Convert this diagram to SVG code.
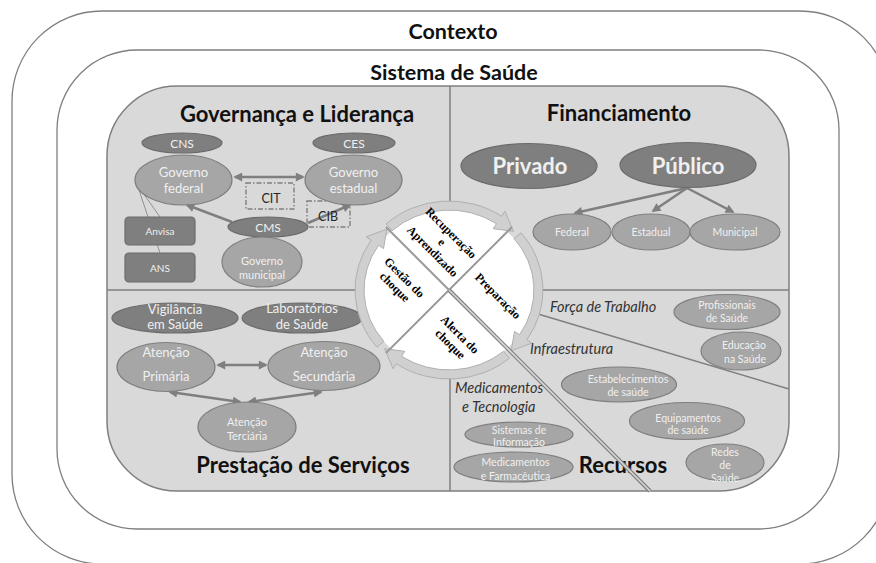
<svg xmlns="http://www.w3.org/2000/svg" width="876" height="563" viewBox="0 0 876 563">
<defs>
<style>
text{font-family:Lato,"Liberation Sans",sans-serif}
.frame{fill:#fff;stroke:#7f7f7f;stroke-width:1.3}
.panel{fill:#d9d9d9;stroke:#7f7f7f;stroke-width:1.5}
.div{stroke:#7f7f7f;stroke-width:1.5;fill:none}
.dk{fill:#7f7f7f;stroke:#6b6b6b;stroke-width:1.2}
.md{fill:#a6a6a6;stroke:#7f7f7f;stroke-width:1.2}
.lbl{fill:#f0f0f0;text-anchor:middle}
.ttl{font-weight:bold;fill:#111;font-size:22px;text-anchor:middle}
.big{font-weight:bold;fill:#111;font-size:21.5px;text-anchor:middle}
.it{font-style:italic;fill:#333;font-size:14.5px}
.conn{stroke:#7f7f7f;stroke-width:2.5;fill:none}
.thin{stroke:#7f7f7f;stroke-width:0.8;fill:none}
.dash{fill:none;stroke:#7f7f7f;stroke-width:1.4;stroke-dasharray:5 2 1.5 2}
.ring{fill:#d0d0d0;stroke:#b0b0b0;stroke-width:1}
.q{font-family:"Liberation Serif",serif;font-weight:bold;font-size:12px;fill:#000;text-anchor:middle}
</style>
<marker id="ah" viewBox="0 0 10 10" refX="8" refY="5" markerWidth="10" markerHeight="9" markerUnits="userSpaceOnUse" orient="auto-start-reverse">
<path d="M0,0 L10,5 L0,10 z" fill="#7f7f7f"/>
</marker>
</defs>

<g id="contexto">
<rect class="frame" x="12" y="11" width="878" height="553" rx="90" ry="90"/>
<text class="big" x="453" y="39" font-size="21">Contexto</text>
</g>
<g id="sistema-de-saude">
<rect class="frame" x="57" y="50" width="782" height="479" rx="80" ry="80"/>
<text class="big" x="454" y="80">Sistema de Saúde</text>
</g>
<g id="painel">
<rect class="panel" x="107" y="86" width="682" height="405" rx="70" ry="70"/>
<line class="div" x1="450" y1="86" x2="450" y2="210"/>
<line class="div" x1="450" y1="372" x2="450" y2="491"/>
<line class="div" x1="107" y1="290" x2="360" y2="290"/>
<line class="div" x1="540" y1="290" x2="789" y2="290"/>
<line class="div" x1="538" y1="314" x2="789" y2="389"/>
</g>

<g id="titulos">
<text class="ttl" x="297" y="122">Governança e Liderança</text>
<text class="ttl" x="619" y="121">Financiamento</text>
<text class="ttl" x="303" y="473">Prestação de Serviços</text>
<text class="ttl" x="623" y="473">Recursos</text>
<text class="it" x="550" y="312">Força de Trabalho</text>
<text class="it" x="530" y="354">Infraestrutura</text>
<text class="it" x="455" y="393">Medicamentos</text>
<text class="it" x="462" y="412">e Tecnologia</text>
</g>

<g id="connectors">
<line class="thin" x1="136" y1="183" x2="160" y2="217"/>
<line class="thin" x1="139" y1="190" x2="160" y2="253"/>
<line class="conn" x1="235" y1="177" x2="303" y2="177" marker-start="url(#ah)" marker-end="url(#ah)"/>
<line class="conn" x1="232" y1="222" x2="187" y2="205" marker-end="url(#ah)"/>
<line class="conn" x1="308" y1="223" x2="350" y2="205" marker-end="url(#ah)"/>
<line class="conn" x1="687" y1="188" x2="575" y2="213" marker-end="url(#ah)"/>
<line class="conn" x1="687" y1="188" x2="653" y2="211" marker-end="url(#ah)"/>
<line class="conn" x1="687" y1="188" x2="733" y2="212" marker-end="url(#ah)"/>
<line class="conn" x1="218" y1="365" x2="266" y2="365" marker-start="url(#ah)" marker-end="url(#ah)"/>
<line class="conn" x1="170" y1="392" x2="240" y2="402" marker-start="url(#ah)" marker-end="url(#ah)"/>
<line class="conn" x1="321" y1="392" x2="249" y2="402" marker-start="url(#ah)" marker-end="url(#ah)"/>
</g>

<g id="cit">
<rect class="dash" x="246" y="183" width="48" height="26"/>
<text x="271" y="203" font-size="12.5" fill="#262626" text-anchor="middle">CIT</text>
</g>
<g id="cib">
<rect class="dash" x="307" y="201" width="43" height="26"/>
<text x="328" y="221" font-size="12.5" fill="#262626" text-anchor="middle">CIB</text>
</g>

<g id="cns"><ellipse class="dk" cx="182" cy="143" rx="40" ry="10"/><text class="lbl" x="182" y="147.5" font-size="12">CNS</text></g>
<g id="ces"><ellipse class="dk" cx="354" cy="143" rx="41" ry="10"/><text class="lbl" x="354" y="147.5" font-size="12">CES</text></g>
<g id="governo-federal"><ellipse class="md" cx="183.5" cy="180" rx="48.5" ry="25"/><text class="lbl" x="183.5" y="177" font-size="13">Governo</text><text class="lbl" x="183.5" y="193" font-size="13">federal</text></g>
<g id="governo-estadual"><ellipse class="md" cx="353.5" cy="180" rx="48.5" ry="25"/><text class="lbl" x="353.5" y="177" font-size="13">Governo</text><text class="lbl" x="353.5" y="193" font-size="13">estadual</text></g>
<g id="cms"><ellipse class="dk" cx="268" cy="227" rx="40" ry="10"/><text class="lbl" x="268" y="231.5" font-size="12">CMS</text></g>
<g id="governo-municipal"><ellipse class="md" cx="262" cy="262" rx="40" ry="25"/><text class="lbl" x="262" y="265" font-size="11">Governo</text><text class="lbl" x="262" y="279" font-size="11">municipal</text></g>
<g id="anvisa"><rect class="dk" x="125" y="217" width="70" height="28" rx="4"/><text class="lbl" x="160" y="235" font-size="10">Anvisa</text></g>
<g id="ans"><rect class="dk" x="125" y="253" width="70" height="29" rx="4"/><text class="lbl" x="160" y="272" font-size="10">ANS</text></g>

<g id="privado"><ellipse class="dk" cx="529" cy="166" rx="68" ry="22.5"/><text class="lbl" x="530" y="174" font-size="22" font-weight="bold">Privado</text></g>
<g id="publico"><ellipse class="dk" cx="688" cy="165" rx="68" ry="22.5"/><text class="lbl" x="688" y="174" font-size="22" font-weight="bold">Público</text></g>
<g id="federal"><ellipse class="md" cx="572" cy="232" rx="39" ry="18"/><text class="lbl" x="572" y="236" font-size="10.5">Federal</text></g>
<g id="estadual"><ellipse class="md" cx="651" cy="232" rx="39" ry="18"/><text class="lbl" x="651" y="236" font-size="10.5">Estadual</text></g>
<g id="municipal"><ellipse class="md" cx="735" cy="232" rx="45" ry="18"/><text class="lbl" x="735" y="236" font-size="10.5">Municipal</text></g>

<g id="vigilancia"><ellipse class="dk" cx="175" cy="318" rx="63" ry="15"/><text class="lbl" x="175" y="314" font-size="13">Vigilância</text><text class="lbl" x="175" y="329" font-size="13">em Saúde</text></g>
<g id="laboratorios"><ellipse class="dk" cx="302" cy="318" rx="60" ry="15"/><text class="lbl" x="302" y="313" font-size="13">Laboratórios</text><text class="lbl" x="302" y="328.5" font-size="13">de Saúde</text></g>
<g id="atencao-primaria"><ellipse class="md" cx="166" cy="367" rx="49" ry="24.5"/><text class="lbl" x="166" y="357" font-size="13">Atenção</text><text class="lbl" x="166" y="381" font-size="13">Primária</text></g>
<g id="atencao-secundaria"><ellipse class="md" cx="324" cy="366" rx="56" ry="24.5"/><text class="lbl" x="324" y="357" font-size="13">Atenção</text><text class="lbl" x="324" y="381" font-size="13">Secundária</text></g>
<g id="atencao-terciaria"><ellipse class="md" cx="247" cy="427" rx="49" ry="25"/><text class="lbl" x="247" y="426" font-size="11">Atenção</text><text class="lbl" x="247" y="440" font-size="11">Terciária</text></g>

<g id="profissionais"><ellipse class="md" cx="727" cy="312" rx="53" ry="17.5"/><text class="lbl" x="727" y="309" font-size="10.5">Profissionais</text><text class="lbl" x="727" y="322" font-size="10.5">de Saúde</text></g>
<g id="educacao"><ellipse class="md" cx="741" cy="351" rx="40" ry="19"/><text class="lbl" x="744" y="349" font-size="10.5">Educação</text><text class="lbl" x="745" y="362.5" font-size="10.5">na Saúde</text></g>
<g id="estabelecimentos"><ellipse class="md" cx="619" cy="384.5" rx="57.5" ry="17.5"/><text class="lbl" x="628" y="383" font-size="10.5">Estabelecimentos</text><text class="lbl" x="628" y="396" font-size="10.5">de saúde</text></g>
<g id="equipamentos"><ellipse class="md" cx="687" cy="421" rx="57.5" ry="18.5"/><text class="lbl" x="688" y="422" font-size="10.5">Equipamentos</text><text class="lbl" x="688" y="434" font-size="10.5">de saúde</text></g>
<g id="redes"><ellipse class="md" cx="725" cy="462.5" rx="39" ry="18.5"/><text class="lbl" x="725" y="456" font-size="10.5">Redes</text><text class="lbl" x="725" y="469" font-size="10.5">de</text><text class="lbl" x="725" y="481.5" font-size="10.5">Saúde</text></g>
<g id="sistemas"><ellipse class="md" cx="519" cy="434.5" rx="54" ry="12.5"/><text class="lbl" x="519" y="433.5" font-size="10.5">Sistemas de</text><text class="lbl" x="519" y="445.5" font-size="10.5">Informação</text></g>
<g id="medicamentos"><ellipse class="md" cx="513.5" cy="467" rx="59.5" ry="15"/><text class="lbl" x="515.5" y="466" font-size="10.5">Medicamentos</text><text class="lbl" x="515.5" y="480" font-size="10.5">e Farmacêutica</text></g>

<g id="ciclo">
<ellipse cx="449" cy="290" rx="85" ry="80" fill="#fff"/>
<path class="ring" d="M386.1,223.9 A94,89 0 0 1 501.6,216.2 L504.9,211.2 L513.4,231.3 L493.2,228.7 L496.5,223.7 A85,80 0 0 0 392.1,230.6 Z"/>
<path class="ring" d="M521.0,232.8 A94,89 0 0 1 526.9,339.8 L531.9,343.1 L511.2,350.8 L514.5,331.4 L519.5,334.7 A85,80 0 0 0 514.1,238.6 Z"/>
<path class="ring" d="M509.4,358.2 A94,89 0 0 1 396.4,363.8 L393.1,368.8 L384.6,348.7 L404.8,351.3 L401.5,356.3 A85,80 0 0 0 503.6,351.3 Z"/>
<path class="ring" d="M377.0,347.2 A94,89 0 0 1 371.1,240.2 L366.1,236.9 L386.8,229.2 L383.5,248.6 L378.5,245.3 A85,80 0 0 0 383.9,341.4 Z"/>
<line x1="386" y1="227" x2="449" y2="290" stroke="#9a9a9a" stroke-width="2"/>
<line x1="512" y1="227" x2="386" y2="353" stroke="#9a9a9a" stroke-width="2"/>
<line x1="449" y1="290" x2="650" y2="491" stroke="#7f7f7f" stroke-width="4"/>
<line x1="449" y1="290" x2="650" y2="491" stroke="#d9d9d9" stroke-width="1.6"/>
<text class="q" transform="translate(441.5,242.5) rotate(45)"><tspan x="0" y="-9.5">Recuperação</tspan><tspan x="0" y="3.5">e</tspan><tspan x="0" y="16.5">Aprendizado</tspan></text>
<text class="q" transform="translate(498,296) rotate(45)"><tspan x="0" y="4">Preparação</tspan></text>
<text class="q" transform="translate(455,339.5) rotate(45)"><tspan x="0" y="-3">Alerta do</tspan><tspan x="0" y="10.5">choque</tspan></text>
<text class="q" transform="translate(399.5,282.5) rotate(45)"><tspan x="0" y="-3">Gestão do</tspan><tspan x="0" y="10.5">choque</tspan></text>
</g>
</svg>
